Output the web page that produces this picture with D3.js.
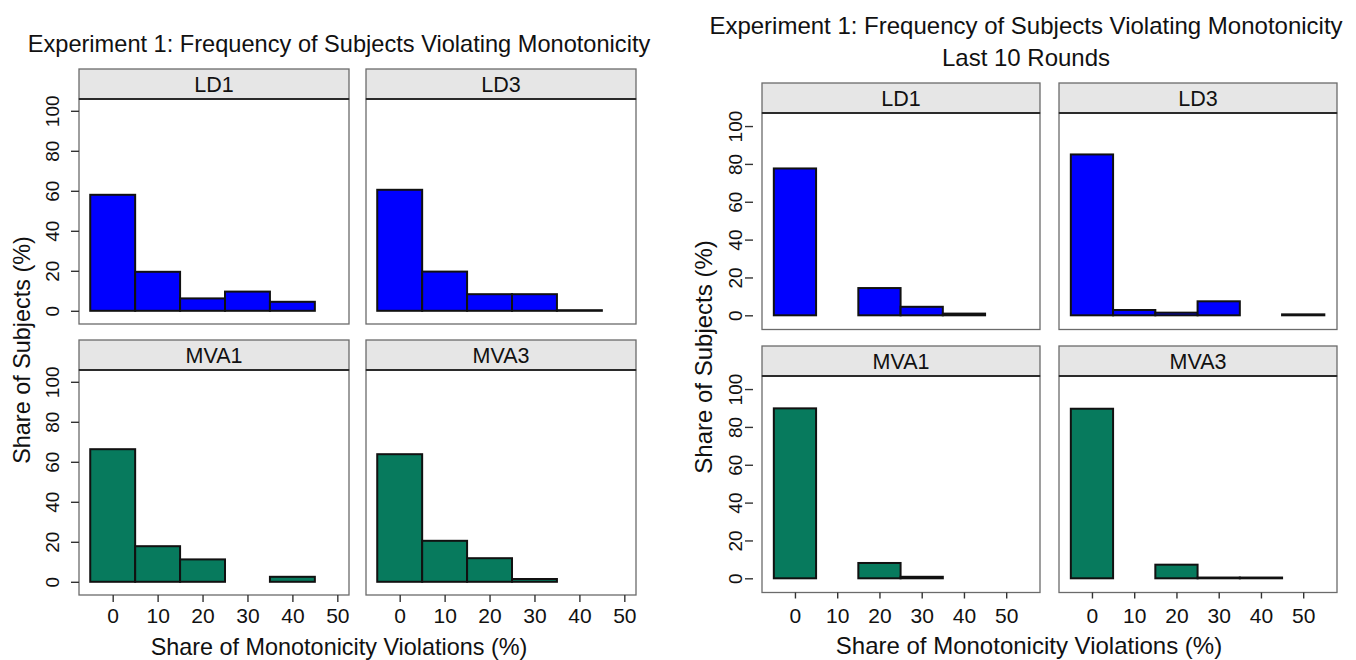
<!DOCTYPE html>
<html>
<head>
<meta charset="utf-8">
<script src="https://cdn.jsdelivr.net/npm/d3@7"></script>
<style>
  body { margin: 0; background: #ffffff; }
  svg { display: block; font-family: "Liberation Sans", Arial, Helvetica, sans-serif; }
</style>
</head>
<body>
<svg id="chart" width="1356" height="660"></svg>
<script>
// ---- data -------------------------------------------------------------
const binCenters = [0, 10, 20, 30, 40, 50];
const treatments = ["LD1", "LD3", "MVA1", "MVA3"];
const yTickValues = [0, 20, 40, 60, 80, 100];
const xTickValues = [0, 10, 20, 30, 40, 50];

// All rounds: share of subjects (%) in each violation bin (null = empty bin)
const allLD1  = [58.0, 19.5, 6.2, 9.6, 4.5, null];
const allLD3  = [60.5, 19.6, 8.3, 8.3, 0.3, null];
const allMVA1 = [66.3, 17.8, 11.2, null, 2.5, null];
const allMVA3 = [63.8, 20.5, 11.8, 1.4, null, null];

// Last 10 rounds
const lastLD1  = [77.6, null, 14.4, 4.5, 0.9, null];
const lastLD3  = [85.0, 2.8, 1.4, 7.4, null, 0.5];
const lastMVA1 = [89.8, null, 8.1, 0.8, null, null];
const lastMVA3 = [89.6, null, 7.2, 0.4, 0.4, null];

const titleAll  = ["Experiment 1: Frequency of Subjects Violating Monotonicity"];
const titleLast = ["Experiment 1: Frequency of Subjects Violating Monotonicity", "Last 10 Rounds"];
const xTitle = "Share of Monotonicity Violations (%)";
const yTitle = "Share of Subjects (%)";

const fillColors = { LD1: "#0000ff", LD3: "#0000ff", MVA1: "#077a5d", MVA3: "#077a5d" };

// ---- drawing ----------------------------------------------------------
const svg = d3.select("#chart");

function drawFigure(cfg, series) {
  const g = svg.append("g");
  const x = d3.scaleLinear().domain(cfg.xDomain).range([0, cfg.panelW]);
  const y = d3.scaleLinear().domain(cfg.yDomain).range([cfg.plotH, 0]);

  cfg.title.forEach((t, i) => {
    g.append("text")
      .attr("x", cfg.titleX).attr("y", cfg.titleY[i])
      .attr("text-anchor", "middle")
      .attr("font-size", cfg.titleSize)
      .attr("fill", "#111")
      .text(t);
  });

  treatments.forEach((name, k) => {
    const col = k % 2, row = Math.floor(k / 2);
    const px = cfg.colX[col];
    const sy = cfg.stripY[row];
    const py = sy + cfg.stripH;

    // strip with treatment label
    g.append("rect")
      .attr("x", px).attr("y", sy)
      .attr("width", cfg.panelW).attr("height", cfg.stripH)
      .attr("fill", "#e6e6e6").attr("stroke", "#6b6b6b").attr("stroke-width", 1.3);
    g.append("text")
      .attr("x", px + cfg.panelW / 2).attr("y", sy + cfg.stripH / 2)
      .attr("dy", "0.36em")
      .attr("text-anchor", "middle")
      .attr("font-size", cfg.stripSize)
      .attr("fill", "#111")
      .text(name);

    const p = g.append("g").attr("transform", `translate(${px},${py})`);
    p.append("rect")
      .attr("width", cfg.panelW).attr("height", cfg.plotH)
      .attr("fill", "#fff").attr("stroke", "#6b6b6b").attr("stroke-width", 1.3);

    const bars = binCenters
      .map((c, i) => ({ c, v: series[name][i] }))
      .filter(d => d.v !== null);

    p.selectAll("rect.bar")
      .data(bars)
      .join("rect")
      .attr("class", "bar")
      .attr("x", d => x(d.c - 5))
      .attr("width", d => x(d.c + 5) - x(d.c - 5))
      .attr("y", d => y(d.v))
      .attr("height", d => y(0) - y(d.v))
      .attr("fill", fillColors[name])
      .attr("stroke", "#111")
      .attr("stroke-width", 2);

    // heavier rule under the strip
    g.append("line")
      .attr("x1", px).attr("x2", px + cfg.panelW)
      .attr("y1", py).attr("y2", py)
      .attr("stroke", "#2b2b2b").attr("stroke-width", 2);

    if (col === 0) {
      const ax = p.append("g")
        .attr("transform", `translate(${-cfg.yAxisGap},0)`)
        .call(d3.axisLeft(y).tickValues(yTickValues).tickSize(cfg.yTickLen).tickFormat(d3.format("d")));
      ax.select(".domain").remove();
      ax.selectAll(".tick line").attr("stroke", "#333").attr("stroke-width", 1.4);
      ax.selectAll(".tick text")
        .attr("x", null).attr("y", null).attr("dy", "0.36em")
        .attr("transform", `translate(${-(cfg.yLabelOffset - cfg.yAxisGap)},0) rotate(-90)`)
        .attr("text-anchor", "middle")
        .attr("font-size", cfg.yTickSize)
        .attr("font-family", null)
        .attr("fill", "#111");
    }
    if (row === 1) {
      const ax = p.append("g")
        .attr("transform", `translate(0,${cfg.plotH})`)
        .call(d3.axisBottom(x).tickValues(xTickValues).tickSize(cfg.xTickLen).tickFormat(d3.format("d")));
      ax.select(".domain").remove();
      ax.selectAll(".tick line").attr("stroke", "#333").attr("stroke-width", 1.4);
      ax.selectAll(".tick text")
        .attr("y", cfg.xLabelBaseline).attr("dy", null)
        .attr("font-size", cfg.xTickSize)
        .attr("font-family", null)
        .attr("fill", "#111");
    }
  });

  // axis titles
  g.append("text")
    .attr("x", cfg.xTitleX).attr("y", cfg.xTitleY)
    .attr("text-anchor", "middle")
    .attr("font-size", cfg.axisTitleSize)
    .attr("fill", "#111")
    .text(xTitle);
  g.append("text")
    .attr("transform", `translate(${cfg.yTitleX},${cfg.yTitleY}) rotate(-90)`)
    .attr("dy", "0.36em")
    .attr("text-anchor", "middle")
    .attr("font-size", cfg.axisTitleSize)
    .attr("fill", "#111")
    .text(yTitle);
}

drawFigure({
  title: titleAll, titleX: 339, titleY: [52], titleSize: 23.6,
  colX: [79, 366], stripY: [69, 340], stripH: 30,
  panelW: 270, plotH: 225,
  xDomain: [-7.5, 52.6], yDomain: [-6.6, 105.9],
  yAxisGap: 0, yTickLen: 8, yLabelOffset: 27, yTickSize: 19,
  xTickLen: 7, xLabelBaseline: 28, xTickSize: 21,
  xTitleX: 339, xTitleY: 655, yTitleX: 22, yTitleY: 350, axisTitleSize: 23.4,
  stripSize: 21.5
}, { LD1: allLD1, LD3: allLD3, MVA1: allMVA1, MVA3: allMVA3 });

drawFigure({
  title: titleLast, titleX: 1026, titleY: [34, 66], titleSize: 24,
  colX: [762, 1059], stripY: [83, 346], stripH: 30,
  panelW: 278, plotH: 216.5,
  xDomain: [-7.8, 58.0], yDomain: [-7.5, 106.9],
  yAxisGap: 9, yTickLen: 8, yLabelOffset: 27, yTickSize: 19,
  xTickLen: 6, xLabelBaseline: 30, xTickSize: 21,
  xTitleX: 1029, xTitleY: 654, yTitleX: 703, yTitleY: 357, axisTitleSize: 24,
  stripSize: 21.5
}, { LD1: lastLD1, LD3: lastLD3, MVA1: lastMVA1, MVA3: lastMVA3 });
</script>
</body>
</html>
